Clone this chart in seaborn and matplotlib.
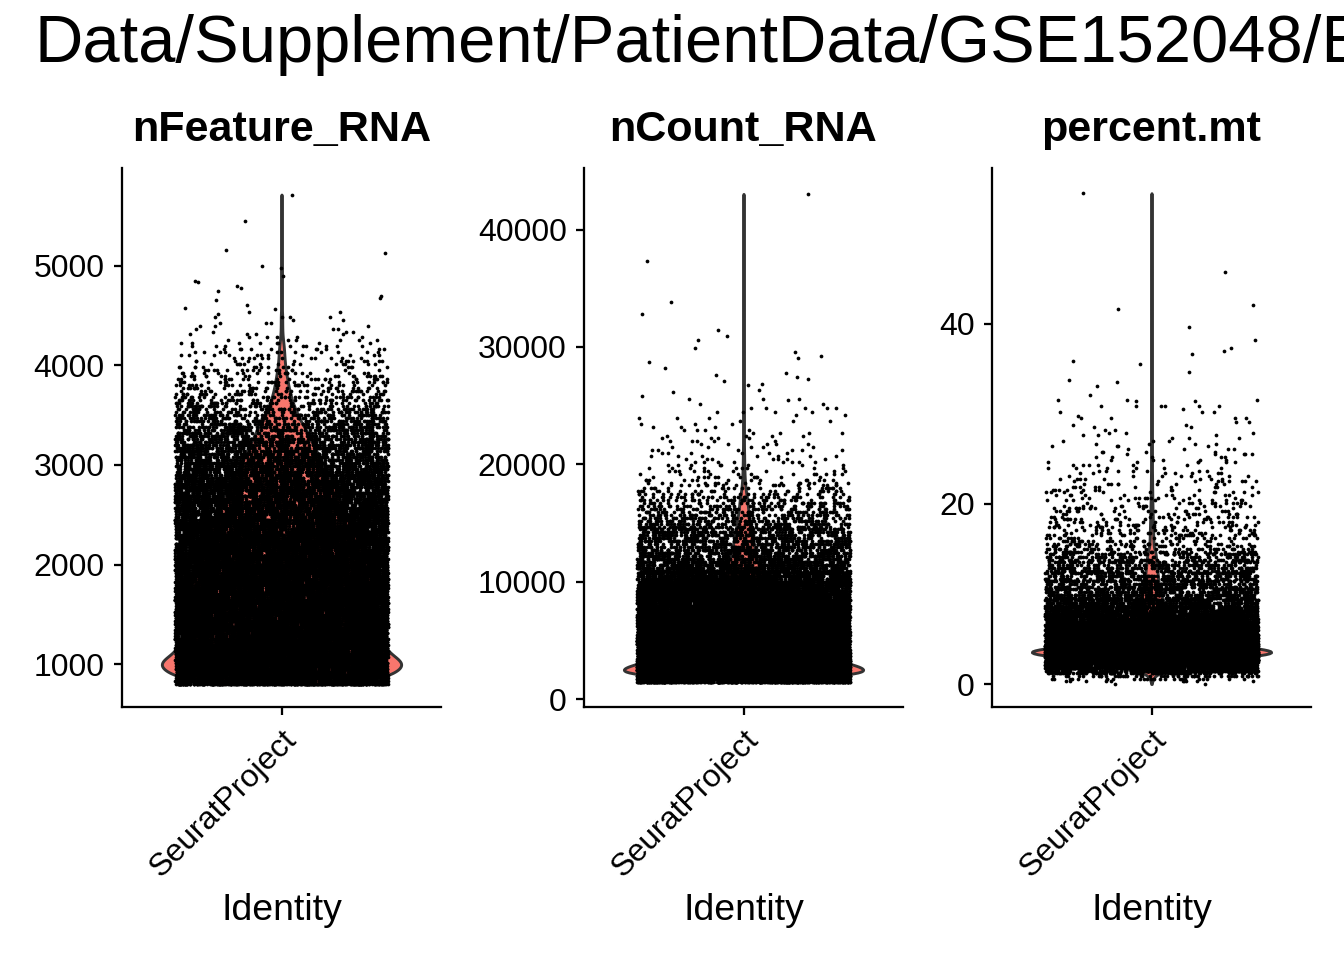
import numpy as np
import pandas as pd
import seaborn as sns
import matplotlib
matplotlib.use('Agg')
import matplotlib.pyplot as plt

# values, each value with how many cells sit there
nfeature_values = [800, 830, 860, 890, 920, 950, 980, 1010, 1040, 1070,
                   1100, 1130, 1160, 1190, 1220, 1250, 1280, 1310, 1340, 1370,
                   1400, 1430, 1460, 1490, 1520, 1550, 1580, 1610, 1640, 1670,
                   1700, 1730, 1760, 1790, 1820, 1850, 1880, 1910, 1940, 1970,
                   2000, 2030, 2060, 2090, 2120, 2150, 2180, 2210, 2240, 2270,
                   2300, 2330, 2360, 2390, 2420, 2450, 2480, 2510, 2540, 2570,
                   2600, 2630, 2660, 2690, 2720, 2750, 2780, 2810, 2840, 2870,
                   2900, 2930, 2960, 2990, 3020, 3050, 3080, 3110, 3140, 3170,
                   3200, 3230, 3260, 3290, 3320, 3350, 3380, 3410, 3440, 3470,
                   3500, 3530, 3560, 3590, 3620, 3650, 3680, 3710, 3740, 3770,
                   3800, 3830, 3860, 3890, 3920, 3950, 3980, 4010, 4040, 4070,
                   4100, 4130, 4160, 4190, 4220, 4250, 4280, 4310, 4340, 4370,
                   4400, 4430, 4460, 4490, 4516, 4532, 4566, 4572, 4609, 4656,
                   4676, 4696, 4742, 4779, 4796, 4833, 4850, 4893, 4980, 4993,
                   5133, 5157, 5445, 5715]
nfeature_counts = [300, 350, 400, 430, 450, 470, 480, 480, 470, 450,
                   430, 420, 410, 405, 400, 398, 395, 392, 388, 385,
                   382, 380, 378, 375, 373, 371, 369, 367, 365, 363,
                   361, 360, 358, 356, 354, 352, 350, 348, 345, 342,
                   340, 336, 332, 328, 324, 320, 316, 310, 305, 300,
                   295, 290, 285, 280, 275, 270, 265, 258, 252, 246,
                   240, 235, 230, 225, 220, 215, 212, 208, 200, 190,
                   182, 175, 170, 165, 160, 155, 150, 145, 138, 130,
                   125, 120, 112, 108, 105, 98, 90, 82, 76, 70,
                   65, 60, 54, 50, 45, 42, 38, 35, 32, 29,
                   27, 25, 23, 21, 19, 17, 15, 14, 13, 12,
                   11, 11, 10, 9, 8, 6, 5, 4, 3, 3,
                   3, 3, 2, 4, 1, 2, 1, 1, 1, 1,
                   1, 1, 1, 1, 1, 1, 1, 1, 1, 1,
                   1, 1, 1, 1]

ncount_values = [1450, 1700, 1950, 2200, 2450, 2700, 2950, 3200, 3450, 3700,
                 3950, 4200, 4450, 4700, 4950, 5200, 5450, 5700, 5950, 6200,
                 6450, 6700, 6950, 7200, 7450, 7700, 7950, 8200, 8450, 8700,
                 8950, 9200, 9450, 9700, 9950, 10200, 10450, 10700, 10950, 11200,
                 11450, 11700, 11950, 12200, 12450, 12700, 12950, 13200, 13450, 13700,
                 13950, 14200, 14450, 14700, 14950, 15200, 15450, 15700, 15950, 16200,
                 16450, 16700, 16950, 17200, 17450, 17700, 17950, 18200, 18450, 18700,
                 18950, 19200, 19450, 19700, 19950, 20200, 20450, 20700, 20950, 21200,
                 21450, 21700, 21950, 22200, 22450, 22700, 22950, 23200, 23450, 23700,
                 23950, 24200, 24450, 24760, 25100, 25470, 25600, 25810, 26130, 26320,
                 26750, 26840, 27100, 27240, 27460, 27590, 27800, 28200, 28730, 29070,
                 29240, 29530, 29900, 30580, 30950, 31430, 32770, 33790, 37310, 43040]
ncount_counts = [300, 600, 950, 1250, 1300, 1250, 1150, 1030, 950, 900,
                 860, 830, 800, 770, 740, 710, 680, 650, 625, 600,
                 580, 560, 540, 525, 510, 495, 480, 465, 450, 435,
                 420, 405, 390, 370, 340, 300, 250, 225, 205, 190,
                 175, 160, 150, 135, 130, 122, 115, 110, 105, 98,
                 92, 88, 82, 76, 72, 68, 62, 58, 52, 50,
                 46, 43, 40, 36, 30, 26, 22, 19, 16, 14,
                 12, 11, 10, 9, 8, 8, 7, 7, 6, 6,
                 5, 5, 5, 4, 4, 4, 4, 3, 3, 3,
                 3, 2, 4, 5, 2, 1, 3, 1, 1, 1,
                 1, 1, 1, 1, 1, 1, 1, 1, 1, 1,
                 1, 1, 1, 1, 1, 1, 1, 1, 1, 1]

percent_values = [0.0, 0.3, 0.6, 0.9, 1.2, 1.5, 1.8, 2.1, 2.4, 2.7,
                  3.0, 3.3, 3.6, 3.9, 4.2, 4.5, 4.8, 5.1, 5.4, 5.7,
                  6.0, 6.3, 6.6, 6.9, 7.2, 7.5, 7.8, 8.1, 8.4, 8.7,
                  9.0, 9.3, 9.6, 9.9, 10.2, 10.5, 10.8, 11.1, 11.4, 11.7,
                  12.0, 12.3, 12.6, 12.9, 13.2, 13.5, 13.8, 14.1, 14.4, 14.7,
                  15.0, 15.3, 15.6, 15.9, 16.2, 16.5, 16.8, 17.1, 17.4, 17.7,
                  18.0, 18.3, 18.6, 18.9, 19.2, 19.5, 19.8, 20.1, 20.4, 20.7,
                  21.0, 21.3, 21.6, 21.9, 22.2, 22.5, 22.8, 23.1, 23.4, 23.7,
                  24.0, 24.3, 24.6, 24.9, 25.2, 25.5, 25.8, 26.1, 26.4, 26.7,
                  27.0, 27.3, 27.6, 27.9, 28.2, 28.5, 28.8, 29.1, 29.5, 29.8,
                  30.2, 30.5, 30.9, 31.4, 31.5, 32.1, 33.1, 33.5, 33.8, 34.6,
                  35.5, 35.9, 36.7, 37.0, 37.3, 38.2, 39.6, 41.6, 42.1, 45.7, 54.5]
percent_counts = [2, 10, 25, 50, 110, 220, 380, 520, 720, 1000,
                  1350, 1700, 1800, 1600, 1300, 1080, 930, 820, 730, 650,
                  580, 520, 470, 420, 380, 350, 320, 290, 250, 220,
                  190, 170, 150, 135, 125, 118, 112, 106, 100, 96,
                  92, 88, 84, 80, 76, 72, 68, 64, 60, 56,
                  40, 32, 30, 28, 26, 25, 24, 23, 22, 21,
                  20, 19, 18, 17, 16, 15, 14, 13, 12, 12,
                  11, 11, 10, 10, 9, 9, 8, 8, 7, 7,
                  6, 6, 6, 5, 5, 5, 4, 4, 4, 4,
                  3, 3, 3, 3, 2, 2, 2, 2, 4, 1,
                  3, 1, 6, 2, 3, 1, 1, 1, 1, 1,
                  1, 1, 1, 1, 1, 1, 1, 1, 1, 1, 1]

panel_titles = ['nFeature_RNA', 'nCount_RNA', 'percent.mt']
panel_values = [nfeature_values, ncount_values, percent_values]
panel_counts = [nfeature_counts, ncount_counts, percent_counts]
panel_ticks = [[1000, 2000, 3000, 4000, 5000],
               [0, 10000, 20000, 30000, 40000],
               [0, 20, 40]]
panel_ylim = [(569, 5982), (-680, 45250), (-2.55, 57.3)]
panel_left = [122, 584, 992]

sns.set_theme(style='ticks')
plt.rcParams['font.family'] = ['Liberation Sans', 'DejaVu Sans']

W, H = 1344, 960
fig = plt.figure(figsize=(W / 192, H / 192), dpi=192)

for i in range(3):
    ax = fig.add_axes([panel_left[i] / W, 1 - 707 / H, 319 / W, 539 / H])
    df = pd.DataFrame({'Identity': 'SeuratProject',
                       'value': np.repeat(panel_values[i], panel_counts[i])})

    sns.violinplot(data=df, x='Identity', y='value', ax=ax, color='#F8766D',
                   saturation=1, linecolor='#333333', linewidth=1.1, width=0.9,
                   cut=0, inner=None, density_norm='width', gridsize=512, bw_adjust=0.45)
    sns.stripplot(data=df, x='Identity', y='value', ax=ax, color='black',
                  jitter=0.4, size=1.4, linewidth=0)

    ax.set_xlim(-0.6, 0.6)
    ax.set_ylim(panel_ylim[i])
    ax.set_yticks(panel_ticks[i])
    ax.set_ylabel('')
    ax.set_title(panel_titles[i], fontsize=16.2, fontweight='bold', color='black', pad=10.2)
    ax.set_xlabel('Identity', fontsize=14, color='black')
    ax.xaxis.set_label_coords(0.5, -0.345)

    ax.tick_params(axis='both', length=3, width=0.85, color='black',
                   labelsize=12, labelcolor='black')
    for lab in ax.get_xticklabels():
        lab.set_rotation(45)
        lab.set_ha('right')
        lab.set_va('top')
        lab.set_rotation_mode('anchor')

    ax.spines['top'].set_visible(False)
    ax.spines['right'].set_visible(False)
    ax.spines['left'].set_linewidth(0.85)
    ax.spines['bottom'].set_linewidth(0.85)
    ax.spines['left'].set_color('black')
    ax.spines['bottom'].set_color('black')

fig.text(34 / W, 1 - 62.5 / H, 'Data/Supplement/PatientData/GSE152048/E', fontsize=25.1,
         color='black', ha='left', va='baseline')

fig.savefig('out.png', dpi=192)
